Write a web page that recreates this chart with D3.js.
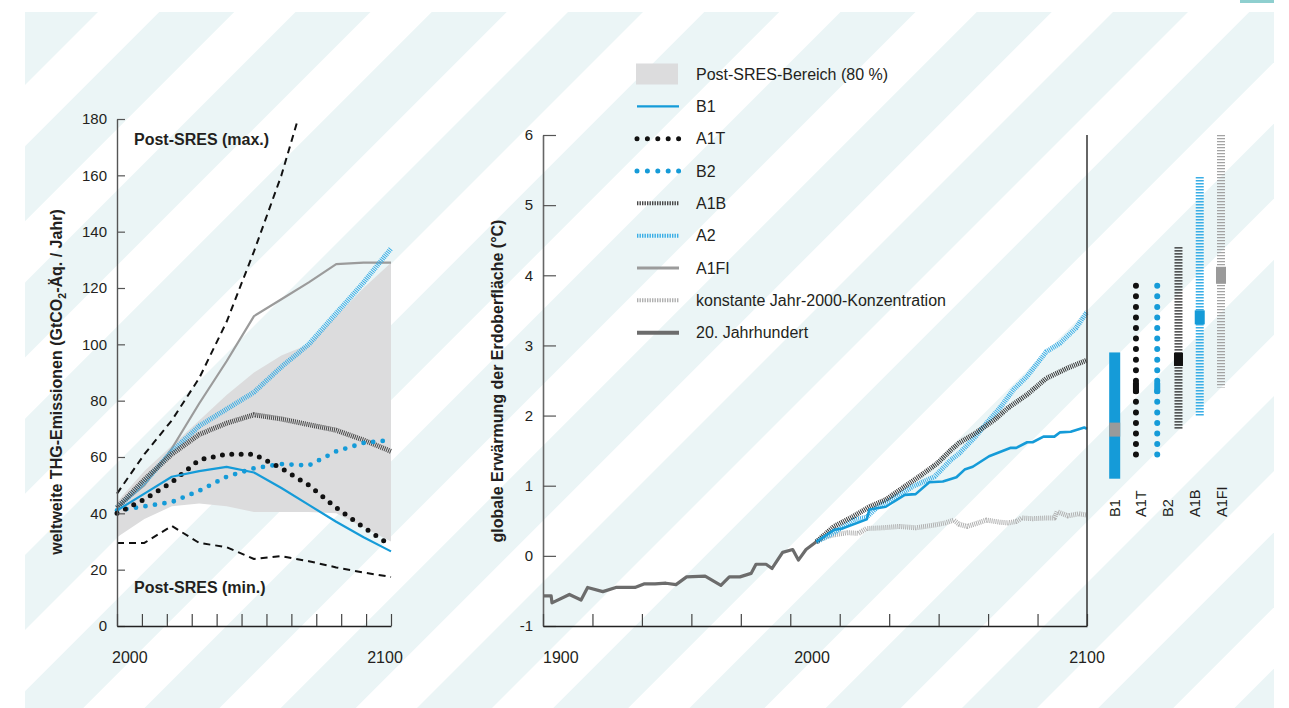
<!DOCTYPE html>
<html>
<head>
<meta charset="utf-8">
<script src="https://cdn.jsdelivr.net/npm/d3@7"></script>
<style>
  body { margin: 0; background: #fff; }
  svg { display: block; font-family: "Liberation Sans", Arial, Helvetica, sans-serif; }
</style>
</head>
<body>
<svg id="chart" width="1289" height="708"></svg>
<script>
// ---------- Emissions panel (GtCO2-eq / year) ----------
const emisYears   = [2000, 2010, 2020, 2030, 2040, 2050, 2060, 2070, 2080, 2090, 2100];
const rangeLow    = [31.5, 38, 42.5, 43.5, 42.5, 40.5, 40.5, 40.5, 40, 35, 30];
const rangeHigh   = [44, 55, 64, 73, 82, 90, 96, 100, 110, 120, 129];
const emisB1      = [41, 47, 53, 55, 56.5, 54.5, 49, 43, 37, 31.5, 26.5];
const emisA1T     = [40, 45, 51, 59, 61, 61, 56, 50, 42, 35, 28.5];
const emisB2      = [41, 42.5, 44, 48, 53, 56, 57.5, 57, 62, 65, 66];
const emisA1B     = [42, 52, 61, 68, 72, 75, 73.5, 71.5, 69.5, 66, 62];
const emisA2      = [42, 51, 62, 71, 77, 83, 92, 100, 111, 122, 134];
const emisA1FI    = [42, 50, 63, 79, 94, 110, 116, 122, 128.5, 129, 129];
const sresMaxYears = [2000, 2010, 2020, 2030, 2040, 2050, 2060, 2070];
const sresMax      = [47, 61, 73, 88, 108, 133, 160, 193];
const sresMin      = [29.5, 29.5, 35.5, 29.5, 28, 23.8, 24.8, 23, 20.8, 19, 17.4];
const emisTicks    = [0, 20, 40, 60, 80, 100, 120, 140, 160, 180];
const emisYearLabels = [2000, 2100];

// ---------- Temperature panel (°C) ----------
const histYears = [1900, 1903, 1903.3, 1909.7, 1914, 1916.4, 1922, 1926.8, 1933.8, 1937.1, 1941.2, 1945.2, 1948.9,
                   1952.8, 1959.6, 1965.4, 1968.5, 1972.4, 1976.5, 1978.3, 1982, 1984.2, 1988.1, 1991.8, 1993.9, 1996.7, 2000.5];
const histTemp  = [-0.57, -0.57, -0.67, -0.55, -0.63, -0.45, -0.51, -0.45, -0.45, -0.40, -0.40, -0.39, -0.41,
                   -0.30, -0.29, -0.42, -0.30, -0.30, -0.25, -0.12, -0.12, -0.18, 0.05, 0.09, -0.06, 0.09, 0.2];
const constYears = [2000.5, 2004, 2007, 2012, 2016, 2019, 2025, 2031, 2037, 2044, 2048, 2051, 2053, 2056, 2060, 2063, 2068,
                    2071, 2074, 2076, 2080, 2085, 2088, 2089, 2093, 2097, 2100];
const constTemp  = [0.2, 0.27, 0.30, 0.33, 0.32, 0.39, 0.40, 0.42, 0.40, 0.44, 0.47, 0.51, 0.45, 0.42, 0.47, 0.51, 0.48,
                    0.47, 0.49, 0.54, 0.53, 0.54, 0.54, 0.63, 0.57, 0.60, 0.58];
const b1Years = [2000.5, 2007, 2010, 2019, 2020, 2026, 2033, 2037, 2042, 2047, 2052, 2055, 2058, 2064, 2072, 2074,
                 2078, 2080, 2084, 2088, 2090, 2094, 2099, 2100];
const b1Temp  = [0.2, 0.37, 0.39, 0.52, 0.66, 0.70, 0.87, 0.88, 1.05, 1.06, 1.12, 1.23, 1.27, 1.42, 1.54, 1.54,
                 1.62, 1.62, 1.70, 1.70, 1.76, 1.77, 1.83, 1.81];
const a2Years = [2000.5, 2007, 2014, 2019, 2023, 2030, 2036, 2044, 2050, 2053, 2059, 2063, 2068, 2073, 2078, 2085, 2090, 2096, 2100];
const a2Temp  = [0.2, 0.33, 0.51, 0.55, 0.70, 0.85, 0.99, 1.13, 1.37, 1.46, 1.70, 1.89, 2.11, 2.37, 2.56, 2.91, 3.03, 3.25, 3.48];
const a1bYears = [2000.5, 2007, 2014, 2020, 2026, 2033, 2039, 2045, 2050, 2053, 2059, 2066, 2071, 2078, 2085, 2093, 2100];
const a1bTemp  = [0.2, 0.42, 0.56, 0.70, 0.80, 0.99, 1.15, 1.32, 1.51, 1.61, 1.75, 1.94, 2.11, 2.30, 2.53, 2.68, 2.79];
const tempTicks = [-1, 0, 1, 2, 3, 4, 5, 6];
const tempYearLabels = [1900, 2000, 2100];

// likely ranges and best estimates at 2100
const barNames  = ["B1", "A1T", "B2", "A1B", "A2", "A1FI"];
const barLow    = [1.1, 1.4, 1.4, 1.8, 2.0, 2.4];
const barHigh   = [2.9, 3.8, 3.8, 4.4, 5.4, 6.0];
const barBest   = [1.8, 2.4, 2.4, 2.8, 3.4, 4.0];
const barLabels = ["B1", "A1T", "B2", "A1B", "A1FI"];

const legendNames = ["Post-SRES-Bereich (80 %)", "B1", "A1T", "B2", "A1B", "A2", "A1FI",
                     "konstante Jahr-2000-Konzentration", "20. Jahrhundert"];

// ---------- styles ----------
const C = {
  blue: "#159bd8", blueHatch: "#3aaee6", black: "#111", darkHatch: "#474747",
  gray: "#9b9b9b", lightHatch: "#b0b0b0", hist: "#6c6c6c", band: "#dcdcdd",
  text: "#231f20", teal: "#ebf5f6"
};
const lineStyle = {
  "B1":   { stroke: C.blue, width: 2.2 },
  "A1T":  { stroke: C.black, width: 5, dash: "0 9.4", cap: "round" },
  "B2":   { stroke: C.blue, width: 4.8, dash: "0 9.6", cap: "round" },
  "A1B":  { stroke: C.darkHatch, width: 5, dash: "1 1" },
  "A2":   { stroke: C.blueHatch, width: 5, dash: "1 1" },
  "A1FI": { stroke: C.gray, width: 2.2 },
  "konstante Jahr-2000-Konzentration": { stroke: C.lightHatch, width: 5, dash: "1 1" },
  "20. Jahrhundert": { stroke: C.hist, width: 3.2 }
};

const svg = d3.select("#chart");

// ---------- striped backdrop ----------
const defs = svg.append("defs");
defs.append("clipPath").attr("id", "bgClip")
  .append("rect").attr("x", 25).attr("y", 12).attr("width", 1249).attr("height", 696);
const bg = svg.append("g").attr("clip-path", "url(#bgClip)");
bg.append("rect").attr("x", 25).attr("y", 12).attr("width", 1249).attr("height", 696).attr("fill", "#fff");
d3.range(-6, 16).forEach(k => {
  const c1 = 35 + 136.25 * k, c2 = c1 + 75;
  bg.append("polygon")
    .attr("points", [[c1, 0], [c2, 0], [c2 - 760, 760], [c1 - 760, 760]].map(p => p.join(",")).join(" "))
    .attr("fill", C.teal);
});
svg.append("rect").attr("x", 1240).attr("y", 0).attr("width", 34).attr("height", 3).attr("fill", "#8ecfcf");

function styled(sel, st) {
  sel.attr("fill", "none").attr("stroke", st.stroke).attr("stroke-width", st.width)
     .attr("stroke-linejoin", "round");
  if (st.dash) sel.attr("stroke-dasharray", st.dash);
  if (st.cap) sel.attr("stroke-linecap", st.cap);
  return sel;
}

// ---------- emissions panel ----------
const xL = d3.scaleLinear().domain([2000, 2100]).range([117, 391]);
const yL = d3.scaleLinear().domain([0, 180]).range([626, 119]);
const L = svg.append("g");

defs.append("clipPath").attr("id", "emisClip")
  .append("rect").attr("x", 100).attr("y", 119).attr("width", 300).attr("height", 520);

const band = d3.area().x((d, i) => xL(emisYears[i])).y0((d, i) => yL(rangeLow[i])).y1((d, i) => yL(rangeHigh[i]));
L.append("path").attr("d", band(emisYears)).attr("fill", C.band);

const lineL = (yrs, vals) => d3.line().x((d, i) => xL(yrs[i])).y((d, i) => yL(vals[i]))(vals);
const dashedStyle = { stroke: "#111", width: 2, dash: "7 5" };
styled(L.append("path").attr("d", lineL(sresMaxYears, sresMax)).attr("clip-path", "url(#emisClip)"), dashedStyle);
styled(L.append("path").attr("d", lineL(emisYears, sresMin)), dashedStyle);

[["A1FI", emisA1FI], ["A2", emisA2], ["A1B", emisA1B], ["B2", emisB2], ["A1T", emisA1T], ["B1", emisB1]]
  .forEach(([name, vals]) => styled(L.append("path").attr("d", lineL(emisYears, vals)), lineStyle[name]));

// axes
const yAxisL = d3.axisLeft(yL).tickValues(emisTicks).tickSizeInner(-8).tickSizeOuter(0).tickPadding(10)
  .tickFormat(d => String(d));
const gyL = L.append("g").attr("transform", "translate(117,0)").call(yAxisL);
gyL.select(".domain").attr("stroke", "#555").attr("stroke-width", 1.4);
gyL.selectAll(".tick line").attr("stroke", "#555").attr("stroke-width", 1.2);
gyL.selectAll(".tick text").attr("font-size", 15).attr("fill", C.text).attr("font-family", null);

const xAxisL = d3.axisBottom(xL).tickValues(d3.range(0, 12).map(i => 2000 + i * 100 / 11))
  .tickSizeInner(-12).tickSizeOuter(0).tickFormat("");
const gxL = L.append("g").attr("transform", "translate(0,626)").call(xAxisL);
gxL.select(".domain").attr("stroke", "#222").attr("stroke-width", 1.5);
gxL.selectAll(".tick line").attr("stroke", "#444").attr("stroke-width", 1.2);

L.selectAll(".yrL").data(emisYearLabels).join("text")
  .attr("x", d => xL(d)).attr("y", 663)
  .attr("text-anchor", (d, i) => i === 0 ? "start" : "middle")
  .attr("dx", (d, i) => i === 0 ? -5 : -6)
  .attr("font-size", 16).attr("fill", C.text).text(d => d);

L.append("text").attr("x", 134).attr("y", 145).attr("font-size", 16).attr("font-weight", "bold")
  .attr("fill", C.text).text("Post-SRES (max.)");
L.append("text").attr("x", 134).attr("y", 593).attr("font-size", 16).attr("font-weight", "bold")
  .attr("fill", C.text).text("Post-SRES (min.)");

const tL = L.append("text").attr("transform", "translate(62,382) rotate(-90)").attr("text-anchor", "middle")
  .attr("font-size", 16).attr("font-weight", "bold").attr("fill", C.text);
tL.append("tspan").text("weltweite THG-Emissionen (GtCO");
tL.append("tspan").attr("font-size", 10.5).attr("dy", 4).text("2");
tL.append("tspan").attr("dy", -4).text("-Äq. / Jahr)");

// ---------- legend ----------
const G = svg.append("g");
const legY = d3.scalePoint().domain(legendNames).range([74, 332.7]);
legendNames.forEach((name, i) => {
  const y = legY(name);
  if (i === 0) {
    G.append("rect").attr("x", 636).attr("y", y - 10.5).attr("width", 42).attr("height", 21).attr("fill", C.band);
  } else {
    const st = Object.assign({}, lineStyle[name]);
    if (name === "A1T" || name === "B2") { st.dash = "0 10.4"; st.width = 5; }
    if (st.dash === "1 1") { st.width = 4; st.dash = "1.4 1.1"; }
    if (name === "20. Jahrhundert") st.width = 4;
    if (name === "A1FI") st.width = 3;
    styled(G.append("line").attr("x1", 637).attr("x2", 679).attr("y1", y).attr("y2", y), st);
  }
  G.append("text").attr("x", 696).attr("y", y).attr("dy", "0.36em").attr("font-size", 16)
    .attr("fill", C.text).text(name);
});

// ---------- temperature panel ----------
const xR = d3.scaleLinear().domain([1900, 2100]).range([543, 1087]);
const yR = d3.scaleLinear().domain([-1, 6]).range([626, 135]);
const R = svg.append("g");
const lineR = (yrs, vals) => d3.line().x((d, i) => xR(yrs[i])).y((d, i) => yR(vals[i]))(vals);

styled(R.append("path").attr("d", lineR(histYears, histTemp)), lineStyle["20. Jahrhundert"]);
styled(R.append("path").attr("d", lineR(constYears, constTemp)), lineStyle["konstante Jahr-2000-Konzentration"]);
styled(R.append("path").attr("d", lineR(a2Years, a2Temp)), lineStyle["A2"]);
styled(R.append("path").attr("d", lineR(a1bYears, a1bTemp)), Object.assign({}, lineStyle["A1B"], { stroke: "#333" }));
styled(R.append("path").attr("d", lineR(b1Years, b1Temp)), Object.assign({}, lineStyle["B1"], { width: 2.6 }));

const yAxisR = d3.axisLeft(yR).tickValues(tempTicks).tickSizeInner(-13).tickSizeOuter(0).tickPadding(10)
  .tickFormat(d => String(d));
const gyR = R.append("g").attr("transform", "translate(543,0)").call(yAxisR);
gyR.select(".domain").attr("stroke", "#666").attr("stroke-width", 1.6);
gyR.selectAll(".tick line").attr("stroke", "#555").attr("stroke-width", 1.2);
gyR.selectAll(".tick text").attr("font-size", 15).attr("fill", C.text).attr("font-family", null);

const xAxisR = d3.axisBottom(xR).tickValues(d3.range(0, 12).map(i => 1900 + i * 200 / 11))
  .tickSizeInner(-12).tickSizeOuter(0).tickFormat("");
const gxR = R.append("g").attr("transform", "translate(0,626)").call(xAxisR);
gxR.select(".domain").attr("stroke", "#222").attr("stroke-width", 1.5);
gxR.selectAll(".tick line").attr("stroke", "#444").attr("stroke-width", 1.2);
R.append("line").attr("x1", xR(2100)).attr("x2", xR(2100)).attr("y1", yR(6)).attr("y2", yR(-1))
  .attr("stroke", "#333").attr("stroke-width", 1.5);

R.selectAll(".yrR").data(tempYearLabels).join("text")
  .attr("x", d => xR(d)).attr("y", 663)
  .attr("text-anchor", (d, i) => i === 0 ? "start" : "middle")
  .attr("dx", (d, i) => i === 1 ? -3 : 0)
  .attr("font-size", 16).attr("fill", C.text).text(d => d);

R.append("text").attr("transform", "translate(503,381) rotate(-90)").attr("text-anchor", "middle")
  .attr("font-size", 16).attr("font-weight", "bold").attr("fill", C.text)
  .text("globale Erwärmung der Erdoberfläche (°C)");

// range bars
const bx = d3.scalePoint().domain(barNames).range([1114.7, 1221]);
const barStyle = {
  "B1":   { kind: "solid", color: C.blue, w: 11, best: "#9a9a9a", bw: 11, bh: 14 },
  "A1T":  { kind: "dots", color: C.black, w: 6, best: C.black, bw: 6, bh: 13 },
  "B2":   { kind: "dots", color: C.blue, w: 6, best: C.blue, bw: 6, bh: 13 },
  "A1B":  { kind: "hatch", color: "#222", w: 8, best: C.black, bw: 9, bh: 13 },
  "A2":   { kind: "hatch", color: C.blueHatch, w: 8, best: C.blue, bw: 10, bh: 14 },
  "A1FI": { kind: "hatch", color: "#a3a3a3", w: 8, best: "#9a9a9a", bw: 10, bh: 17 }
};
barNames.forEach((name, i) => {
  const s = barStyle[name], x = bx(name);
  if (s.kind === "solid") {
    R.append("rect").attr("x", x - s.w / 2).attr("y", yR(barHigh[i])).attr("width", s.w)
      .attr("height", yR(barLow[i]) - yR(barHigh[i])).attr("fill", s.color);
  } else if (s.kind === "dots") {
    R.append("line").attr("x1", x).attr("x2", x).attr("y1", yR(barHigh[i]) - 3.5).attr("y2", yR(barLow[i]))
      .attr("stroke", s.color).attr("stroke-width", s.w).attr("stroke-linecap", "round")
      .attr("stroke-dasharray", "0 10.55");
  } else {
    R.append("line").attr("x1", x).attr("x2", x).attr("y1", yR(barHigh[i])).attr("y2", yR(barLow[i]))
      .attr("stroke", s.color).attr("stroke-width", s.w).attr("stroke-dasharray", "1.3 1.7");
  }
  R.append("rect").attr("x", x - s.bw / 2).attr("y", yR(barBest[i]) - s.bh / 2)
    .attr("width", s.bw).attr("height", s.bh).attr("fill", s.best)
    .attr("rx", s.kind === "dots" ? 2 : 0);
});
const lx = d3.scalePoint().domain(barLabels).range([1114, 1221]);
R.selectAll(".barLab").data(barLabels).join("text")
  .attr("transform", d => `translate(${lx(d) + 5.5},517) rotate(-90)`)
  .attr("font-size", 14.5).attr("fill", C.text).text(d => d);
</script>
</body>
</html>
